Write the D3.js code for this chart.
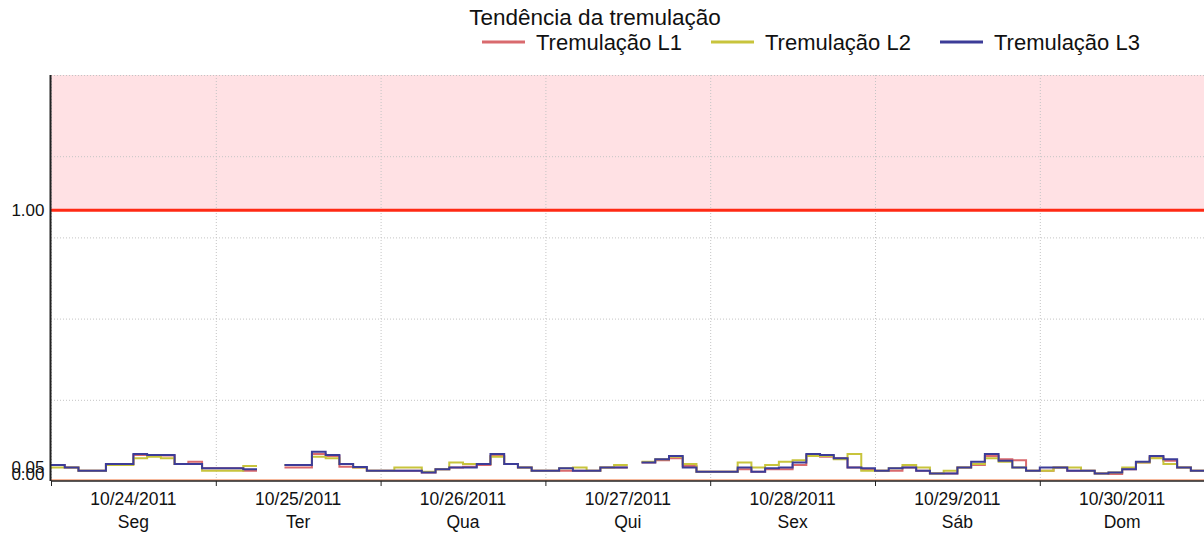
<!DOCTYPE html>
<html lang="pt">
<head>
<meta charset="UTF-8">
<title>Tendência da tremulação</title>
<script src="https://d3js.org/d3.v7.min.js"></script>
<style>
  body { margin: 0; background: #fff; font-family: "Liberation Sans", Arial, sans-serif; }
  .grid line { stroke: #c4c4c4; stroke-dasharray: 1,2; }
  .grid path { display: none; }
  text { fill: #111; }
</style>
</head>
<body>
<svg id="chart" width="1204" height="535"></svg>
<script>
// two-hour readings starting 10/24/2011 00:00
var start = new Date(2011, 9, 24, 0);
var stepHours = 2;

var days = ["10/24/2011", "10/25/2011", "10/26/2011", "10/27/2011", "10/28/2011", "10/29/2011", "10/30/2011"];
var weekdays = ["Seg", "Ter", "Qua", "Qui", "Sex", "Sáb", "Dom"];
var yLabels = [0, 0.05, 1.0];
var yGrid = [0.3, 0.6, 0.9, 1.2, 1.5];
var limit = 1.0;

var seriesNames = ["Tremulação L1", "Tremulação L2", "Tremulação L3"];
var seriesColors = ["#d96a6e", "#c8c43c", "#3c3c98"];

var l1 = [0.059,0.050,0.038,0.038,0.063,0.063,0.096,0.094,0.094,0.063,0.071,0.047,
          0.047,0.047,0.038,null,null,0.050,0.050,0.100,0.092,0.053,0.050,0.038,
          0.038,0.038,0.038,0.031,0.043,0.050,0.053,0.059,0.092,0.063,0.050,0.038,
          0.038,0.038,0.038,0.038,0.050,0.050,null,0.068,0.077,0.084,0.055,0.034,
          0.034,0.034,0.043,0.034,0.043,0.043,0.059,0.096,0.090,0.084,0.050,0.043,
          0.038,0.038,0.050,0.038,0.028,0.028,0.050,0.059,0.092,0.080,0.077,0.038,
          0.038,0.050,0.038,0.038,0.028,0.026,0.043,0.068,0.090,0.075,0.050,0.038];
var l2 = [0.050,0.050,0.038,0.038,0.059,0.059,0.084,0.090,0.084,0.063,0.063,0.038,
          0.038,0.038,0.055,null,null,0.059,0.059,0.090,0.084,0.063,0.050,0.038,
          0.038,0.050,0.050,0.034,0.043,0.068,0.063,0.063,0.090,0.063,0.050,0.038,
          0.038,0.047,0.050,0.038,0.050,0.059,null,0.071,0.080,0.090,0.063,0.034,
          0.034,0.034,0.068,0.050,0.059,0.071,0.077,0.092,0.092,0.080,0.100,0.038,
          0.038,0.047,0.059,0.050,0.028,0.038,0.050,0.063,0.084,0.071,0.050,0.038,
          0.038,0.050,0.050,0.038,0.028,0.031,0.050,0.068,0.084,0.063,0.050,0.038];
var l3 = [0.059,0.050,0.038,0.038,0.063,0.063,0.100,0.096,0.096,0.063,0.063,0.047,
          0.047,0.047,0.043,null,null,0.059,0.059,0.108,0.096,0.063,0.052,0.038,
          0.038,0.038,0.038,0.031,0.043,0.050,0.050,0.063,0.100,0.063,0.050,0.038,
          0.038,0.047,0.038,0.038,0.050,0.050,null,0.068,0.080,0.092,0.050,0.034,
          0.034,0.034,0.050,0.034,0.047,0.050,0.068,0.100,0.096,0.084,0.050,0.047,
          0.038,0.047,0.050,0.038,0.028,0.028,0.050,0.071,0.100,0.075,0.050,0.038,
          0.050,0.050,0.038,0.038,0.028,0.031,0.043,0.071,0.092,0.080,0.050,0.038];
var allSeries = [l1, l2, l3];

var svg = d3.select("#chart");
var pLeft = 51, pRight = 1204, pTop = 75, pBottom = 481;

var x = d3.scaleTime()
  .domain([start, d3.timeDay.offset(start, 7)])
  .range([pLeft, pLeft + 7 * 164.8]);
var y = d3.scaleLinear().domain([0, 1.5]).range([pBottom, pTop]);

// alarm band above the limit
svg.append("rect")
  .attr("x", pLeft).attr("y", y(1.5))
  .attr("width", pRight - pLeft).attr("height", y(limit) - y(1.5))
  .attr("fill", "#ffe1e4");

// grid
svg.append("g").attr("class", "grid")
  .attr("transform", "translate(" + pLeft + ",0)")
  .call(d3.axisLeft(y).tickValues(yGrid).tickSize(-(pRight - pLeft)).tickFormat(""));
svg.append("g").attr("class", "grid")
  .attr("transform", "translate(0," + pTop + ")")
  .call(d3.axisBottom(x).ticks(d3.timeDay.every(1)).tickSize(pBottom - pTop).tickFormat(""));

// limit lines
svg.append("line")
  .attr("x1", pLeft).attr("x2", pRight)
  .attr("y1", y(limit)).attr("y2", y(limit))
  .attr("stroke", "#ff2a14").attr("stroke-width", 3);
svg.append("line")
  .attr("x1", pLeft).attr("x2", pRight)
  .attr("y1", y(0) - 1).attr("y2", y(0) - 1)
  .attr("stroke", "#f5a07a").attr("stroke-width", 1.5);

// step lines
function slotTime(i) { return d3.timeHour.offset(start, i * stepHours); }
var line = d3.line()
  .defined(function(d) { return d.v != null; })
  .x(function(d) { return x(d.t); })
  .y(function(d) { return y(d.v); });

allSeries.forEach(function(vals, k) {
  var pts = [];
  vals.forEach(function(v, i) {
    pts.push({t: slotTime(i), v: v});
    pts.push({t: slotTime(i + 1), v: v});
  });
  svg.append("path")
    .datum(pts)
    .attr("fill", "none")
    .attr("stroke", seriesColors[k])
    .attr("stroke-width", 2)
    .attr("d", line);
});

// axes
var yAxis = svg.append("g")
  .attr("transform", "translate(" + (pLeft - 0.5) + ",0)")
  .call(d3.axisLeft(y).tickValues(yLabels).tickSize(0).tickPadding(6).tickFormat(d3.format(".2f")));
yAxis.select(".domain").attr("stroke", "#222").attr("stroke-width", 2)
  .attr("d", "M0," + pTop + "V" + pBottom);
yAxis.selectAll("text")
  .attr("font-family", "Liberation Sans, Arial, sans-serif").attr("font-size", 17).attr("fill", "#111")
  .attr("dy", function(d) { return d === 0 ? "-0.1em" : "0.3em"; });

var xAxis = svg.append("g")
  .attr("transform", "translate(0," + pBottom + ")")
  .call(d3.axisBottom(x).ticks(d3.timeDay.every(1)).tickSize(5).tickFormat(""));
xAxis.select(".domain").attr("stroke", "#222").attr("stroke-width", 1.5)
  .attr("d", "M" + pLeft + ",0H" + pRight);
xAxis.selectAll(".tick line").attr("stroke", "#222");

var labels = svg.append("g")
  .selectAll("text")
  .data(days)
  .join("text")
  .attr("font-size", 17.5)
  .attr("text-anchor", "middle")
  .attr("transform", function(d, i) {
    return "translate(" + x(d3.timeHour.offset(d3.timeDay.offset(start, i), 12)) + ",0)";
  });
labels.append("tspan").attr("x", 0).attr("y", 505).text(function(d) { return d; });
labels.append("tspan").attr("x", 0).attr("y", 528).text(function(d, i) { return weekdays[i]; });

// title and legend
svg.append("text")
  .attr("x", 595).attr("y", 25)
  .attr("text-anchor", "middle")
  .attr("font-size", 22.5)
  .text("Tendência da tremulação");

var legend = svg.append("g").selectAll("g")
  .data(seriesNames)
  .join("g")
  .attr("transform", function(d, i) { return "translate(" + (482 + i * 229) + ",42)"; });
legend.append("line")
  .attr("x1", 0).attr("x2", 43)
  .attr("stroke", function(d, i) { return seriesColors[i]; })
  .attr("stroke-width", 3);
legend.append("text")
  .attr("x", 54).attr("y", 7.5)
  .attr("font-size", 22)
  .text(function(d) { return d; });
</script>
</body>
</html>
